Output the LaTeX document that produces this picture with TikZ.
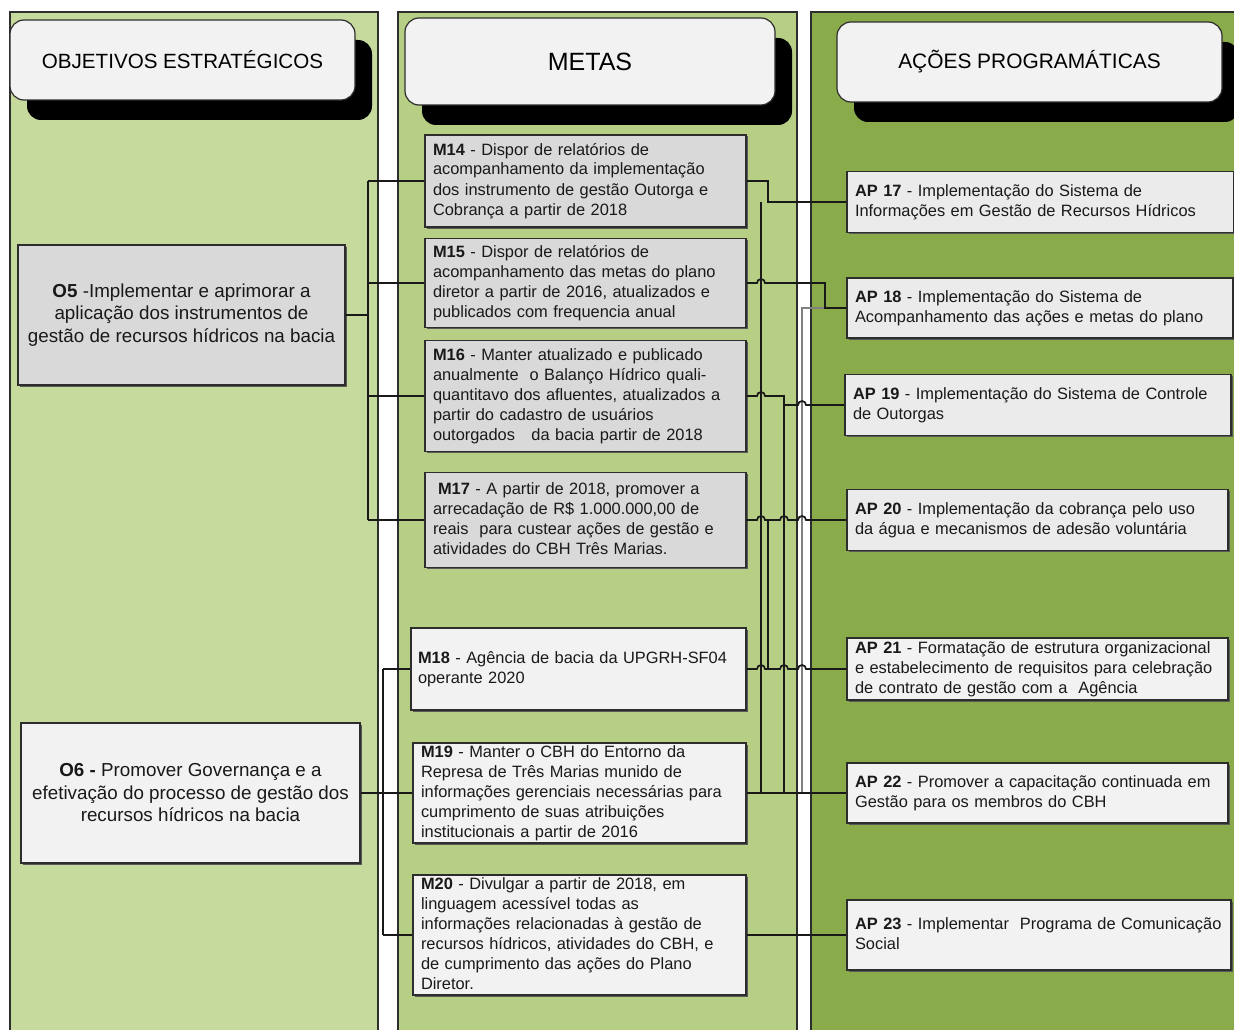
\documentclass[tikz,border=0pt]{standalone}
\usepackage{fontspec}
\setmainfont{Liberation Sans}
\usetikzlibrary{calc,shadows}

\definecolor{panelA}{RGB}{199,218,158}
\definecolor{panelB}{RGB}{183,206,133}
\definecolor{panelC}{RGB}{138,171,74}
\definecolor{boxdark}{RGB}{217,217,217}
\definecolor{boxmid}{RGB}{235,235,235}
\definecolor{boxlight}{RGB}{242,242,242}
\definecolor{edge}{RGB}{45,45,45}

% one block of left-aligned lines that never rebreaks
\newcommand{\cardlines}[1]{\begin{tabular}{@{}l@{}}#1\end{tabular}}

\begin{document}
\begin{tikzpicture}[x=1pt,y=-1pt,
  panel/.style={draw=edge, line width=1.2pt},
  header/.style={draw=edge, line width=1.2pt, fill=boxlight, rounded corners=14pt,
    drop shadow={shadow xshift=17pt, shadow yshift=-20pt, fill=black, opacity=1},
    inner sep=0pt},
  card/.style={draw=edge, line width=1.1pt, inner xsep=8pt, inner ysep=0pt,
    drop shadow={shadow xshift=1.5pt, shadow yshift=-1.5pt, fill=black!65, opacity=1},
    align=left, text=black!90, font=\fontsize{16.4}{20}\selectfont},
  goal/.style={draw=edge, line width=1.2pt, inner sep=0pt, align=center,
    drop shadow={shadow xshift=1.5pt, shadow yshift=-1.5pt, fill=black!65, opacity=1},
    text=black!90, font=\fontsize{18.8}{22.5}\selectfont},
  link/.style={draw=black!90, line width=1.7pt},
  graylink/.style={draw=black!50, line width=1.7pt},
]
\useasboundingbox (0,0) rectangle (1234,1030);
\clip (0,0) rectangle (1234,1030);

% column panels
\draw[panel, fill=panelA] (10,12) rectangle (378,1045);
\draw[panel, fill=panelB] (398,12) rectangle (797,1045);
\draw[panel, fill=panelC] (811,12) rectangle (1250,1045);

% column headers
\node[header, minimum width=345pt, minimum height=80pt, font=\fontsize{20.6}{24}\selectfont]
  (hObj) at (182.5,60) {OBJETIVOS ESTRATÉGICOS};
\node[header, minimum width=370pt, minimum height=87pt, font=\fontsize{25}{30}\selectfont]
  (hMet) at (590,61.5) {METAS};
\node[header, minimum width=385pt, minimum height=80pt, font=\fontsize{20.9}{24}\selectfont]
  (hAco) at (1029.5,62) {AÇÕES PROGRAMÁTICAS};

% strategic objectives
\node[goal, fill=boxdark, minimum width=327pt, minimum height=140pt] (O5) at (181.5,315)
  {\textbf{O5} -Implementar e aprimorar a\\aplicação dos instrumentos de\\gestão de recursos hídricos na bacia};
\node[goal, fill=boxlight, minimum width=339pt, minimum height=140pt] (O6) at (190.5,793)
  {\textbf{O6 -} Promover Governança e a\\efetivação do processo de gestão dos\\recursos hídricos na bacia};

% goals
\node[card, fill=boxdark, minimum width=321pt, minimum height=92pt, text width=305pt] (M14) at (585.5,181)
  {\cardlines{\textbf{M14} - Dispor de relatórios de\\acompanhamento da implementação\\dos instrumento de gestão Outorga e\\Cobrança a partir de 2018}};
\node[card, fill=boxdark, minimum width=321pt, minimum height=89pt, text width=305pt] (M15) at (585.5,283)
  {\cardlines{\textbf{M15} - Dispor de relatórios de\\acompanhamento das metas do plano\\diretor a partir de 2016, atualizados e\\publicados com frequencia anual}};
\node[card, fill=boxdark, minimum width=321pt, minimum height=111pt, text width=305pt] (M16) at (585.5,396)
  {\cardlines{\textbf{M16} - Manter atualizado e publicado\\anualmente~ o Balanço Hídrico quali-\\quantitavo dos afluentes, atualizados a\\partir do cadastro de usuários\\outorgados~~ da bacia partir de 2018}};
\node[card, fill=boxdark, minimum width=321pt, minimum height=95pt, text width=305pt] (M17) at (585.5,520)
  {\cardlines{\hspace*{5pt}\textbf{M17} - A partir de 2018, promover a\\arrecadação de R\$ 1.000.000,00 de\\reais~ para custear ações de gestão e\\atividades do CBH Três Marias.}};
\node[card, fill=boxlight, minimum width=335pt, minimum height=82pt, text width=321pt, inner xsep=7pt] (M18) at (578.5,669)
  {\cardlines{\textbf{M18} - Agência de bacia da UPGRH-SF04\\operante 2020}};
\node[card, fill=boxlight, minimum width=333pt, minimum height=99pt, text width=317pt] (M19) at (579.5,793)
  {\cardlines{\textbf{M19} - Manter o CBH do Entorno da\\Represa de Três Marias munido de\\informações gerenciais necessárias para\\cumprimento de suas atribuições\\institucionais a partir de 2016}};
\node[card, fill=boxlight, minimum width=333pt, minimum height=118pt, text width=317pt] (M20) at (579.5,935)
  {\cardlines{\textbf{M20} - Divulgar a partir de 2018, em\\linguagem acessível todas as\\informações relacionadas à gestão de\\recursos hídricos, atividades do CBH, e\\de cumprimento das ações do Plano\\Diretor.}};

% programme actions
\node[card, fill=boxmid, minimum width=387pt, minimum height=61pt, text width=371pt] (AP17) at (1040.5,202)
  {\cardlines{\textbf{AP 17} - Implementação do Sistema de\\Informações em Gestão de Recursos Hídricos}};
\node[card, fill=boxmid, minimum width=386pt, minimum height=60pt, text width=370pt] (AP18) at (1040,308)
  {\cardlines{\textbf{AP 18} - Implementação do Sistema de\\Acompanhamento das ações e metas do plano}};
\node[card, fill=boxmid, minimum width=386pt, minimum height=61pt, text width=370pt] (AP19) at (1038,405)
  {\cardlines{\textbf{AP 19} - Implementação do Sistema de Controle\\de Outorgas}};
\node[card, fill=boxmid, minimum width=381pt, minimum height=61pt, text width=365pt] (AP20) at (1037.5,520)
  {\cardlines{\textbf{AP 20} - Implementação da cobrança pelo uso\\da água e mecanismos de adesão voluntária}};
\node[card, fill=boxlight, minimum width=381pt, minimum height=62pt, text width=365pt] (AP21) at (1037.5,669)
  {\cardlines{\textbf{AP 21} - Formatação de estrutura organizacional\\e estabelecimento de requisitos para celebração\\de contrato de gestão com a~ Agência}};
\node[card, fill=boxlight, minimum width=381pt, minimum height=60pt, text width=365pt] (AP22) at (1037.5,793)
  {\cardlines{\textbf{AP 22} - Promover a capacitação continuada em\\Gestão para os membros do CBH}};
\node[card, fill=boxlight, minimum width=384pt, minimum height=70pt, text width=368pt] (AP23) at (1039,935)
  {\cardlines{\textbf{AP 23} - Implementar~ Programa de Comunicação\\Social}};

% bus positions
\coordinate (bL) at (368,0);
\coordinate (bR) at (383,0);
\coordinate (vA) at (761,0);
\coordinate (vB) at (768,0);
\coordinate (vC) at (784,0);
\coordinate (vD) at (802,0);
\coordinate (vE) at (825,0);

% objectives to goals
\draw[link] (O5.east) -- (bL |- O5.east);
\draw[link] (bL |- M14.west) -- (bL |- M17.west);
\foreach \m in {M14,M15,M16,M17} \draw[link] (bL |- \m.west) -- (\m.west);
\draw[link] (O6.east) -- (O6.east -| M19.west);
\draw[link] (bR |- M18.west) -- (bR |- M20.west);
\foreach \m in {M18,M20} \draw[link] (bR |- \m.west) -- (\m.west);

% goals to actions
\draw[graylink] (vE |- AP18.west) -- (vD |- AP18.west) -- (vD |- M19.east);
\draw[link] (M14.east) -- (vB |- M14.east) -- (vB |- AP17.west) -- (AP17.west);
\draw[link] (vA |- AP17.west) -- (vA |- M19.east);
\draw[link] (M15.east)
  -- ($(vA |- M15.east)+(-4pt,0)$) arc[start angle=180, end angle=0, radius=4pt]
  -- (vE |- M15.east) -- (vE |- AP18.west) -- (AP18.west);
\draw[link] (M16.east)
  -- ($(vA |- M16.east)+(-4pt,0)$) arc[start angle=180, end angle=0, radius=4pt]
  -- (vC |- M16.east) -- (vC |- AP19.west)
  -- ($(vD |- AP19.west)+(-4pt,0)$) arc[start angle=180, end angle=0, radius=4pt]
  -- (AP19.west);
\draw[link] (vC |- AP19.west) -- (vC |- M19.east);
\draw[link] (M17.east)
  -- ($(vA |- M17.east)+(-4pt,0)$) arc[start angle=180, end angle=0, radius=4pt]
  -- ($(vC |- M17.east)+(-4pt,0)$) arc[start angle=180, end angle=0, radius=4pt]
  -- ($(vD |- M17.east)+(-4pt,0)$) arc[start angle=180, end angle=0, radius=4pt]
  -- (AP20.west);
\draw[link] (vB |- M17.east) -- (vB |- M18.east);
\draw[link] (M18.east)
  -- ($(vA |- M18.east)+(-4pt,0)$) arc[start angle=180, end angle=0, radius=4pt]
  -- ($(vC |- M18.east)+(-4pt,0)$) arc[start angle=180, end angle=0, radius=4pt]
  -- ($(vD |- M18.east)+(-4pt,0)$) arc[start angle=180, end angle=0, radius=4pt]
  -- (AP21.west);
\draw[link] (M19.east) -- (AP22.west);
\draw[link] (M20.east) -- (AP23.west);
\end{tikzpicture}
\end{document}
